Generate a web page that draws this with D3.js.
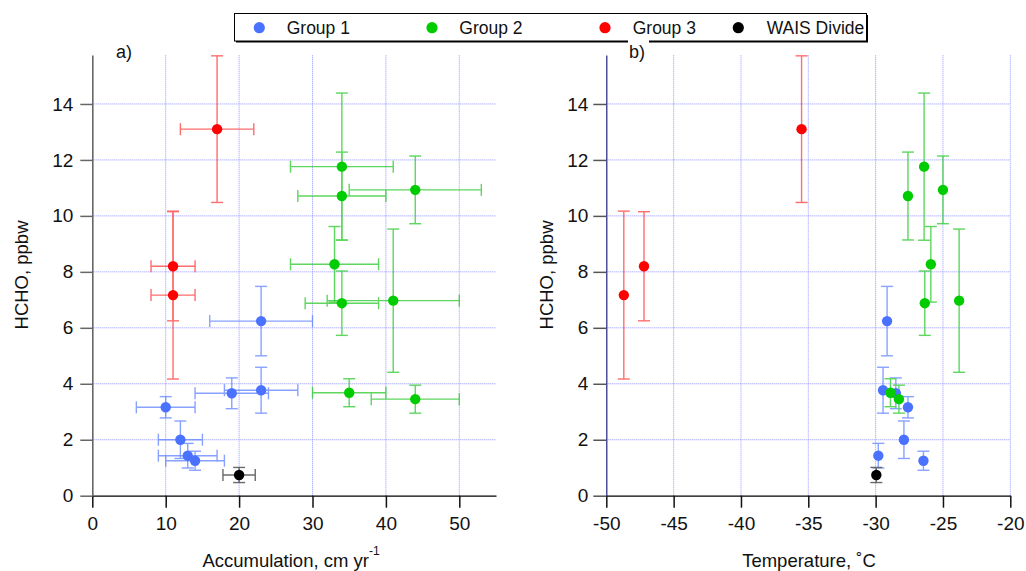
<!DOCTYPE html>
<html>
<head>
<meta charset="utf-8">
<script src="https://cdn.jsdelivr.net/npm/d3@7"></script>
<style>
  body { margin: 0; background: #fff; }
  svg { display: block; }
  text { font-family: "Liberation Sans", Arial, sans-serif; fill: #111; }
</style>
</head>
<body>
<svg id="chart" width="1026" height="571"></svg>
<script>
// ---- Data: HCHO concentration vs. accumulation rate and site temperature ----
const groupNames = ["Group 1", "Group 2", "Group 3", "WAIS Divide"];

// Group 1
const g1Accum    = [23, 23, 19, 10, 12, 13, 14];
const g1AccumErr = [7, 5, 5, 4, 3, 4, 4];
const g1Temp     = [-29.15, -29.45, -28.5, -27.6, -27.9, -29.8, -26.45];
const g1Hcho     = [6.24, 3.77, 3.66, 3.16, 2.0, 1.43, 1.25];
const g1HchoErr  = [1.24, 0.82, 0.55, 0.38, 0.67, 0.44, 0.34];

// Group 2
const g2Accum    = [34, 34, 44, 33, 34, 41, 35, 44];
const g2AccumErr = [7, 6, 9, 6, 5, 9, 5, 6];
const g2Temp     = [-26.4, -27.6, -25.0, -25.9, -26.35, -23.8, -28.9, -28.27];
const g2Hcho     = [11.76, 10.71, 10.93, 8.27, 6.88, 6.97, 3.68, 3.45];
const g2HchoErr  = [2.63, 1.57, 1.21, 1.35, 1.15, 2.56, 0.5, 0.5];

// Group 3
const g3Accum    = [17, 11, 11];
const g3AccumErr = [5, 3, 3];
const g3Temp     = [-35.5, -47.2, -48.7];
const g3Hcho     = [13.1, 8.2, 7.17];
const g3HchoErr  = [2.62, 1.95, 3.0];

// WAIS Divide
const wdAccum    = [20];
const wdAccumErr = [2.2];
const wdTemp     = [-29.95];
const wdHcho     = [0.74];
const wdHchoErr  = [0.27];

const hchoTicks  = [0, 2, 4, 6, 8, 10, 12, 14];
const accumTicks = [0, 10, 20, 30, 40, 50];
const tempTicks  = [-50, -45, -40, -35, -30, -25, -20];

// ---- Styling ----
const markerColors = ["#4a72ff", "#00cc00", "#ff0000", "#000000"];
const barColors    = ["#5b7fff", "#20c820", "#ff3535", "#333333"];
const gridColor = "#7c7cff";

const groups = [
  { accum: g1Accum, accumErr: g1AccumErr, temp: g1Temp, hcho: g1Hcho, hchoErr: g1HchoErr },
  { accum: g2Accum, accumErr: g2AccumErr, temp: g2Temp, hcho: g2Hcho, hchoErr: g2HchoErr },
  { accum: g3Accum, accumErr: g3AccumErr, temp: g3Temp, hcho: g3Hcho, hchoErr: g3HchoErr },
  { accum: wdAccum, accumErr: wdAccumErr, temp: wdTemp, hcho: wdHcho, hchoErr: wdHchoErr }
].map((g, gi) => g.hcho.map((h, i) => ({
  group: gi, accum: g.accum[i], accumErr: g.accumErr[i], temp: g.temp[i], hcho: h, hchoErr: g.hchoErr[i]
})));
const points = groups.flat();

const svg = d3.select("#chart");

// ---- Scales ----
const plotTop = 55, plotBottom = 495.7;
const y  = d3.scaleLinear().domain([0, 15.75]).range([plotBottom, plotTop]);
const xA = d3.scaleLinear().domain([0, 55]).range([92.3, 496]);
const xB = d3.scaleLinear().domain([-50, -20]).range([606.3, 1010.3]);

const capHalf = 6;
const markerR = 5.2;
const plainFmt = d => String(d);   // ASCII hyphen for negative ticks

function grid(x, xTicks, x0) {
  const g = svg.append("g")
    .attr("stroke", gridColor).attr("stroke-width", 1)
    .attr("stroke-dasharray", "1,1").attr("opacity", 0.8);
  g.selectAll(".vg").data(xTicks.filter(d => d !== x0)).join("line")
    .attr("x1", d => x(d)).attr("x2", d => x(d))
    .attr("y1", y(0)).attr("y2", plotTop);
  g.selectAll(".hg").data(hchoTicks.filter(d => d > 0)).join("line")
    .attr("x1", x.range()[0]).attr("x2", x.range()[1])
    .attr("y1", d => y(d)).attr("y2", d => y(d));
}

function vBars(x, key) {
  const g = svg.append("g").attr("stroke-width", 1.4).attr("fill", "none").attr("opacity", 0.72);
  points.forEach(p => {
    const cx = x(p[key]);
    const yt = y(p.hcho + p.hchoErr), yb = y(p.hcho - p.hchoErr);
    const s = barColors[p.group];
    g.append("line").attr("x1", cx).attr("x2", cx).attr("y1", yt).attr("y2", yb).attr("stroke", s);
    g.append("line").attr("x1", cx - capHalf).attr("x2", cx + capHalf).attr("y1", yt).attr("y2", yt).attr("stroke", s);
    g.append("line").attr("x1", cx - capHalf).attr("x2", cx + capHalf).attr("y1", yb).attr("y2", yb).attr("stroke", s);
  });
}

function hBars() {
  const g = svg.append("g").attr("stroke-width", 1.4).attr("fill", "none").attr("opacity", 0.72);
  points.forEach(p => {
    const cy = y(p.hcho);
    const xl = xA(p.accum - p.accumErr), xr = xA(p.accum + p.accumErr);
    const s = barColors[p.group];
    g.append("line").attr("x1", xl).attr("x2", xr).attr("y1", cy).attr("y2", cy).attr("stroke", s);
    g.append("line").attr("x1", xl).attr("x2", xl).attr("y1", cy - capHalf).attr("y2", cy + capHalf).attr("stroke", s);
    g.append("line").attr("x1", xr).attr("x2", xr).attr("y1", cy - capHalf).attr("y2", cy + capHalf).attr("stroke", s);
  });
}

function markers(x, key) {
  svg.append("g").selectAll("circle").data(points).join("circle")
    .attr("cx", d => x(d[key])).attr("cy", d => y(d.hcho))
    .attr("r", markerR).attr("fill", d => markerColors[d.group]);
}

function styleAxis(g, domainColor, domainWidth, tickColor) {
  g.select(".domain").attr("stroke", domainColor).attr("stroke-width", domainWidth);
  g.selectAll(".tick line").attr("stroke", tickColor).attr("stroke-width", 1.5);
  g.selectAll(".tick text").attr("font-size", 19).attr("fill", "#111")
    .attr("font-family", "'Liberation Sans', Arial, sans-serif");
}

// ---- Panel a: accumulation ----
grid(xA, accumTicks, 0);
hBars();
vBars(xA, "accum");
markers(xA, "accum");

const axA_b = svg.append("g").attr("transform", `translate(0,${plotBottom})`)
  .call(d3.axisBottom(xA).tickValues(accumTicks).tickFormat(plainFmt)
    .tickSize(12).tickPadding(9).tickSizeOuter(0));
styleAxis(axA_b, "#000", 1.2, "#111");
const axA_l = svg.append("g").attr("transform", `translate(${xA(0)},0)`)
  .call(d3.axisLeft(y).tickValues(hchoTicks).tickFormat(plainFmt)
    .tickSize(12).tickPadding(7).tickSizeOuter(0));
styleAxis(axA_l, "#666", 1.6, "#666");

// ---- Panel b: temperature ----
grid(xB, tempTicks, -50);
vBars(xB, "temp");
markers(xB, "temp");

const axB_b = svg.append("g").attr("transform", `translate(0,${plotBottom})`)
  .call(d3.axisBottom(xB).tickValues(tempTicks).tickFormat(plainFmt)
    .tickSize(12).tickPadding(9).tickSizeOuter(0));
styleAxis(axB_b, "#000", 1.2, "#111");
const axB_l = svg.append("g").attr("transform", `translate(${xB(-50)},0)`)
  .call(d3.axisLeft(y).tickValues(hchoTicks).tickFormat(plainFmt)
    .tickSize(13).tickPadding(5).tickSizeOuter(0));
styleAxis(axB_l, "#22227e", 1.2, "#555");

// ---- Axis titles ----
const titleSize = 18.5;
svg.append("text").attr("transform", `translate(28,275) rotate(-90)`)
  .attr("text-anchor", "middle").attr("font-size", titleSize).text("HCHO, ppbw");
svg.append("text").attr("transform", `translate(553,275) rotate(-90)`)
  .attr("text-anchor", "middle").attr("font-size", titleSize).text("HCHO, ppbw");

const accTitle = svg.append("text").attr("x", 291).attr("y", 567)
  .attr("text-anchor", "middle").attr("font-size", titleSize);
accTitle.append("tspan").text("Accumulation, cm yr");
accTitle.append("tspan").attr("dy", -12).attr("font-size", 12).text("-1");

svg.append("text").attr("x", 809).attr("y", 567)
  .attr("text-anchor", "middle").attr("font-size", titleSize).text("Temperature, \u02DAC");

// ---- Legend ----
const legend = svg.append("g");
legend.append("rect").attr("x", 236).attr("y", 15).attr("width", 632).attr("height", 27.5).attr("fill", "#000");
legend.append("rect").attr("x", 234.5).attr("y", 13.5).attr("width", 632).attr("height", 27.5)
  .attr("fill", "#fff").attr("stroke", "#000").attr("stroke-width", 1);
const legDotX  = [259.3, 432, 605, 738.3];
const legTextX = [286.7, 459.3, 632.7, 766.7];
groupNames.forEach((name, i) => {
  legend.append("circle").attr("cx", legDotX[i]).attr("cy", 27.7).attr("r", 5.6).attr("fill", markerColors[i]);
  legend.append("text").attr("x", legTextX[i]).attr("y", 34).attr("font-size", 17.5).text(name);
});

// ---- Panel labels ----
svg.append("text").attr("x", 116).attr("y", 58).attr("font-size", 18).text("a)");
svg.append("rect").attr("x", 628).attr("y", 40).attr("width", 21).attr("height", 22).attr("fill", "#fff");
svg.append("text").attr("x", 629).attr("y", 58).attr("font-size", 18).text("b)");
</script>
</body>
</html>
